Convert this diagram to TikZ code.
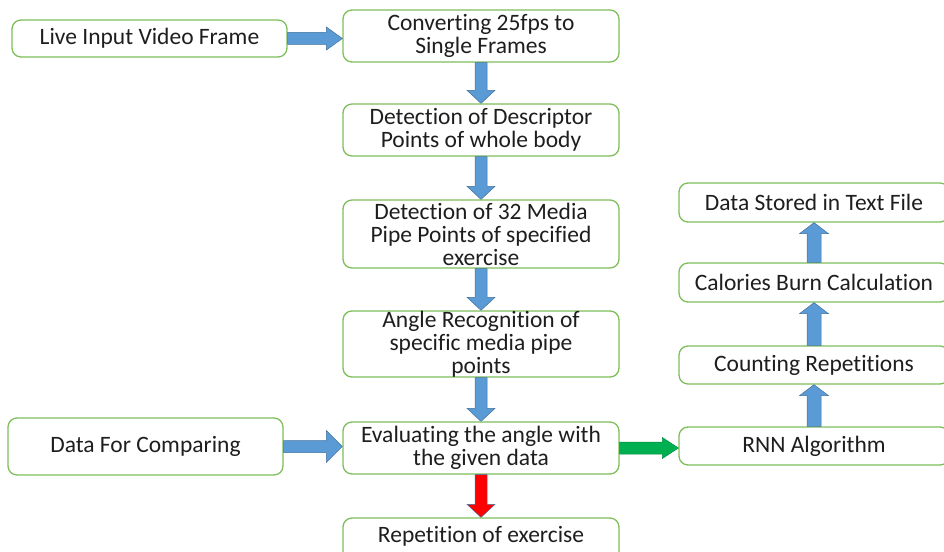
\documentclass[tikz,border=0pt]{standalone}
\usepackage{fontspec}
\setmainfont{Carlito}[Ligatures={NoCommon}]
\usetikzlibrary{calc}
\definecolor{boxgreen}{RGB}{125,190,90}
\definecolor{arrowblue}{RGB}{91,155,213}
\definecolor{arrowedge}{RGB}{65,113,156}
\definecolor{arrowgreen}{RGB}{0,176,80}
\definecolor{arrowred}{RGB}{255,0,0}
\definecolor{txt}{RGB}{30,30,30}
\newcommand{\blockdown}[3]{%
  \path[#3] let \p1=(#1), \p2=(#2) in
    (\x1-6pt,\y1) -- (\x1-6pt,\y2+13pt) -- (\x1-14pt,\y2+13pt) -- (\x1,\y2)
    -- (\x1+14pt,\y2+13pt) -- (\x1+6pt,\y2+13pt) -- (\x1+6pt,\y1) -- cycle;}
\newcommand{\blockup}[3]{%
  \path[#3] let \p1=(#1), \p2=(#2) in
    (\x1-7pt,\y1) -- (\x1-7pt,\y2-11pt) -- (\x1-14.5pt,\y2-11pt) -- (\x1,\y2)
    -- (\x1+14.5pt,\y2-11pt) -- (\x1+7pt,\y2-11pt) -- (\x1+7pt,\y1) -- cycle;}
\newcommand{\blockright}[4]{%
  \path[#3] let \p1=(#1), \p2=(#2) in
    (\x1,\y1+6pt) -- (\x2-16pt,\y1+6pt) -- (\x2-16pt,\y1+#4) -- (\x2,\y1)
    -- (\x2-16pt,\y1-#4) -- (\x2-16pt,\y1-6pt) -- (\x1,\y1-6pt) -- cycle;}
\begin{document}
\begin{tikzpicture}[x=1pt,y=-1pt,
  box/.style={draw=boxgreen,line width=1.3pt,rounded corners=9pt,fill=white,
    text=txt,align=center,font=\fontsize{23.5}{23}\selectfont,inner sep=0pt},
  blue arrow/.style={fill=arrowblue,draw=arrowedge,line width=0.5pt},
  green arrow/.style={fill=arrowgreen,draw=arrowgreen!80!black,line width=0.5pt},
  red arrow/.style={fill=arrowred,draw=arrowedge,line width=0.5pt}]
\useasboundingbox (0,0) rectangle (944,551);
\clip (0,0) rectangle (944,551);
% left column
\node[box,minimum width=275pt,minimum height=37pt] (live) at (149.5,38.5) {Live Input Video Frame};
\node[box,minimum width=275pt,minimum height=57pt] (data) at (145.5,446.5) {Data For Comparing};
% centre column
\node[box,minimum width=276pt,minimum height=52pt] (conv) at (481,36) {Converting 25fps to\\Single Frames};
\node[box,minimum width=276pt,minimum height=52pt] (desc) at (481,130) {Detection of Descriptor\\Points of whole body};
\node[box,minimum width=276pt,minimum height=68pt] (mp) at (481,234) {Detection of 32 Media\\Pipe Points of specified\\exercise};
\node[box,minimum width=276pt,minimum height=66pt] (angle) at (481,344) {Angle Recognition of\\specific media pipe\\points};
\node[box,minimum width=276pt,minimum height=52pt] (eval) at (481,448) {Evaluating the angle with\\the given data};
\node[box,minimum width=276pt,minimum height=60pt] (rep) at (481,548) {};
\node[text=txt,font=\fontsize{23.5}{23}\selectfont] (reptxt) at (481,536) {Repetition of exercise};
% right column
\node[box,minimum width=270pt,minimum height=39pt] (store) at (814,202.5) {Data Stored in Text File};
\node[box,minimum width=270pt,minimum height=39pt] (cal) at (814,282.5) {Calories Burn Calculation};
\node[box,minimum width=270pt,minimum height=38pt] (count) at (814,365) {Counting Repetitions};
\node[box,minimum width=270pt,minimum height=38pt] (rnn) at (814,446) {RNN Algorithm};
% arrows
\blockright{live.east}{conv.west |- live.east}{blue arrow}{11.5pt}
\blockright{data.east}{eval.west |- data.east}{blue arrow}{16pt}
\blockright{eval.east}{rnn.west |- eval.east}{green arrow}{10.5pt}
\blockdown{conv.south}{desc.north}{blue arrow}
\blockdown{desc.south}{mp.north}{blue arrow}
\blockdown{mp.south}{angle.north}{blue arrow}
\blockdown{angle.south}{eval.north}{blue arrow}
\blockdown{eval.south}{rep.north}{red arrow}
\blockup{rnn.north}{count.south}{blue arrow}
\blockup{count.north}{cal.south}{blue arrow}
\blockup{cal.north}{store.south}{blue arrow}
\end{tikzpicture}
\end{document}
